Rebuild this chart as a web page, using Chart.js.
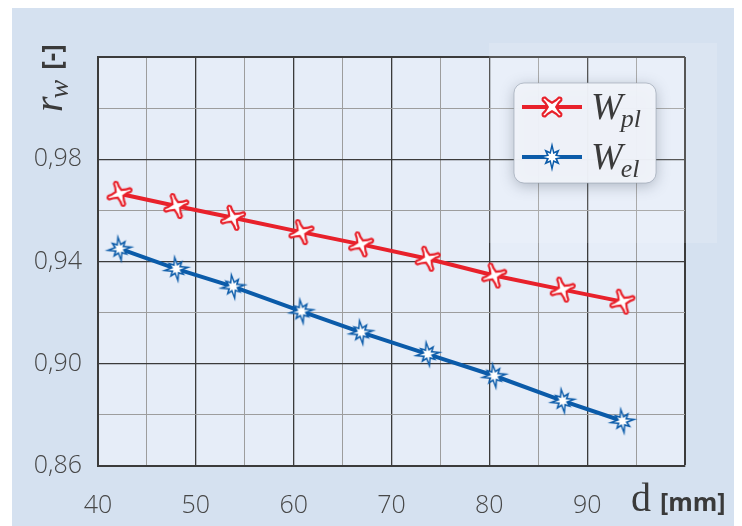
<!DOCTYPE html>
<html>
<head>
<meta charset="utf-8">
<script src="https://cdn.jsdelivr.net/npm/chart.js@4.4.1/dist/chart.umd.min.js"></script>
<style>
  html, body { margin: 0; padding: 0; background: #ffffff; }
  #wrap { width: 742px; height: 526px; }
</style>
</head>
<body>
<div id="wrap"><canvas id="myChart" width="742" height="526"></canvas></div>
<script>
// d [mm]
const diameters = [42.2, 48.0, 53.8, 60.8, 66.9, 73.7, 80.5, 87.5, 93.6];
// r_w for W_pl and W_el
const rwPl = [0.9665, 0.9617, 0.9571, 0.9515, 0.9467, 0.9411, 0.9345, 0.9290, 0.9243];
const rwEl = [0.9450, 0.9371, 0.9302, 0.9205, 0.9123, 0.9038, 0.8953, 0.8855, 0.8776];
const xTickLabels = [40, 50, 60, 70, 80, 90];
const yTickLabels = [0.86, 0.90, 0.94, 0.98];

const RED = '#e8212b';
const BLUE = '#0b5ba9';
const DARK = '#3b3b3b';
const LIGHT = '#9d9d9d';

function pol (r, deg) {
    const a = deg * Math.PI / 180;
    return [r * Math.cos(a), r * Math.sin(a)];
}

function redMarker (rot) {
    const c = document.createElement('canvas');
    c.width = 30; c.height = 30;
    const g = c.getContext('2d');
    g.translate(15, 15);
    g.beginPath();
    for (let i = 0; i < 4; i++) {
        const a = rot + i * 90;
        const n1 = pol(4.2, a - 45), c1 = pol(8.5, a - 9), t1 = pol(11.5, a - 9);
        const ct = pol(14, a), t2 = pol(11.5, a + 9), c2 = pol(8.5, a + 9);
        const n2 = pol(4.2, a + 45);
        if (i === 0) g.moveTo(n1[0], n1[1]);
        g.quadraticCurveTo(c1[0], c1[1], t1[0], t1[1]);
        g.quadraticCurveTo(ct[0], ct[1], t2[0], t2[1]);
        g.quadraticCurveTo(c2[0], c2[1], n2[0], n2[1]);
    }
    g.closePath();
    g.fillStyle = '#ffffff';
    g.fill();
    g.lineWidth = 2.2;
    g.strokeStyle = RED;
    g.stroke();
    return c;
}

function starPath (g, radii, inner) {
    g.beginPath();
    for (let i = 0; i < 16; i++) {
        const deg = i * 22.5 - 90;
        const r = i % 2 === 1 ? inner : radii[(i / 2) % 2];
        const p = pol(r, deg);
        if (i === 0) g.moveTo(p[0], p[1]); else g.lineTo(p[0], p[1]);
    }
    g.closePath();
}

function blueMarker (rot) {
    const c = document.createElement('canvas');
    c.width = 34; c.height = 34;
    const g = c.getContext('2d');
    g.translate(17, 17);
    g.rotate(rot * Math.PI / 180);
    starPath(g, [15, 11], 5.8);
    g.fillStyle = BLUE;
    g.fill();
    starPath(g, [8.5, 6.5], 3.2);
    g.fillStyle = '#ffffff';
    g.fill();
    return c;
}

const plMark = redMarker(-20);
const elMark = blueMarker(-8);
const plLegend = redMarker(45);
const elLegend = blueMarker(0);

const pctl = v => Math.round(v * 100);

const bgPlugin = {
    id: 'bg',
    beforeDraw (chart) {
        const g = chart.ctx;
        const a = chart.chartArea;
        g.save();
        g.fillStyle = '#ffffff';
        g.fillRect(0, 0, chart.width, chart.height);
        g.fillStyle = '#d5e1f0';
        g.fillRect(12, 8, 722, 518);
        g.fillStyle = '#e6edf8';
        g.fillRect(a.left, a.top, a.right - a.left, a.bottom - a.top);
        g.restore();
    },
    beforeDatasetsDraw (chart) {
        const g = chart.ctx;
        g.save();
        g.fillStyle = 'rgba(255,255,255,0.14)';
        g.fillRect(489, 43, 228, 200);
        g.restore();
    },
    afterDraw (chart) {
        const g = chart.ctx;
        g.save();
        // legend box
        g.shadowColor = 'rgba(60,70,90,0.35)';
        g.shadowBlur = 14;
        g.shadowOffsetY = 3;
        g.fillStyle = 'rgba(240,244,250,0.96)';
        g.beginPath();
        g.roundRect(514, 83, 142, 100, 10);
        g.fill();
        g.shadowColor = 'transparent';
        g.strokeStyle = 'rgba(150,160,175,0.6)';
        g.lineWidth = 1;
        g.stroke();

        const rows = [
            { y: 107, color: RED, mark: plLegend, sub: 'pl' },
            { y: 157, color: BLUE, mark: elLegend, sub: 'el' }
        ];
        rows.forEach(r => {
            g.strokeStyle = r.color;
            g.lineWidth = 4;
            g.beginPath();
            g.moveTo(522, r.y);
            g.lineTo(582, r.y);
            g.stroke();
            g.drawImage(r.mark, 552 - r.mark.width / 2, r.y - r.mark.height / 2);
            g.fillStyle = '#3a3a3a';
            g.textBaseline = 'alphabetic';
            g.textAlign = 'left';
            g.font = 'italic 38px "Liberation Serif", serif';
            g.fillText('W', 591, r.y + 12);
            const w = g.measureText('W').width;
            g.font = 'italic 26px "Liberation Serif", serif';
            g.fillText(r.sub, 591 + w - 2, r.y + 20);
        });

        // x title
        g.fillStyle = '#3a3a3a';
        g.font = '40px "Liberation Serif", serif';
        g.fillText('d', 631, 511);
        g.font = 'bold 25px "Open Sans", sans-serif';
        g.fillText('[mm]', 660, 511);

        // y title
        g.translate(62, 112);
        g.rotate(-Math.PI / 2);
        g.font = 'italic 40px "Liberation Serif", serif';
        g.fillText('r', 0, 0);
        const rw = g.measureText('r').width;
        g.font = 'italic 28px "Liberation Serif", serif';
        g.fillText('w', rw - 2, 6);
        const ww = g.measureText('w').width;
        g.font = 'bold 26px "Open Sans", sans-serif';
        g.fillText('[-]', rw + ww + 8, -1);
        g.restore();
    }
};

const ctx = document.getElementById('myChart');

new Chart(ctx, {
    type: 'scatter',
    data: {
        datasets: [{
            label: 'W_pl',
            data: diameters.map((d, i) => ({ x: d, y: rwPl[i] })),
            showLine: true,
            borderColor: RED,
            borderWidth: 4,
            pointStyle: plMark,
            pointRadius: 13
        }, {
            label: 'W_el',
            data: diameters.map((d, i) => ({ x: d, y: rwEl[i] })),
            showLine: true,
            borderColor: BLUE,
            borderWidth: 4,
            pointStyle: elMark,
            pointRadius: 14
        }]
    },
    options: {
        responsive: false,
        devicePixelRatio: 1,
        animation: false,
        layout: { padding: { top: 57, right: 57, left: 0, bottom: 0 } },
        plugins: {
            legend: { display: false },
            tooltip: { enabled: false }
        },
        scales: {
            x: {
                type: 'linear',
                min: 40,
                max: 100,
                afterFit (scale) { scale.height = 60; },
                ticks: {
                    stepSize: 5,
                    padding: 25,
                    color: '#474747',
                    font: { family: '"Open Sans", sans-serif', size: 25, weight: '300' },
                    maxRotation: 0,
                    autoSkip: false,
                    callback: v => xTickLabels.includes(v) ? String(v) : ''
                },
                grid: {
                    drawTicks: false,
                    color: c => (c.tick.value % 10 === 0 ? DARK : LIGHT),
                    lineWidth: c => (c.tick.value === 100 ? 2 : (c.tick.value % 10 === 0 ? 1.3 : 1))
                },
                border: { color: DARK, width: 2 }
            },
            y: {
                min: 0.86,
                max: 1.02,
                afterFit (scale) { scale.width = 98; },
                ticks: {
                    stepSize: 0.02,
                    padding: 16,
                    color: '#474747',
                    font: { family: '"Open Sans", sans-serif', size: 25, weight: '300' },
                    autoSkip: false,
                    callback: v => yTickLabels.some(t => pctl(t) === pctl(v)) ? v.toFixed(2).replace('.', ',') : ''
                },
                grid: {
                    drawTicks: false,
                    color: c => (pctl(c.tick.value) % 4 === 2 ? DARK : LIGHT),
                    lineWidth: c => (pctl(c.tick.value) === 102 ? 2 : (pctl(c.tick.value) % 4 === 2 ? 1.3 : 1))
                },
                border: { color: DARK, width: 2 }
            }
        }
    },
    plugins: [bgPlugin]
});
</script>
</body>
</html>
